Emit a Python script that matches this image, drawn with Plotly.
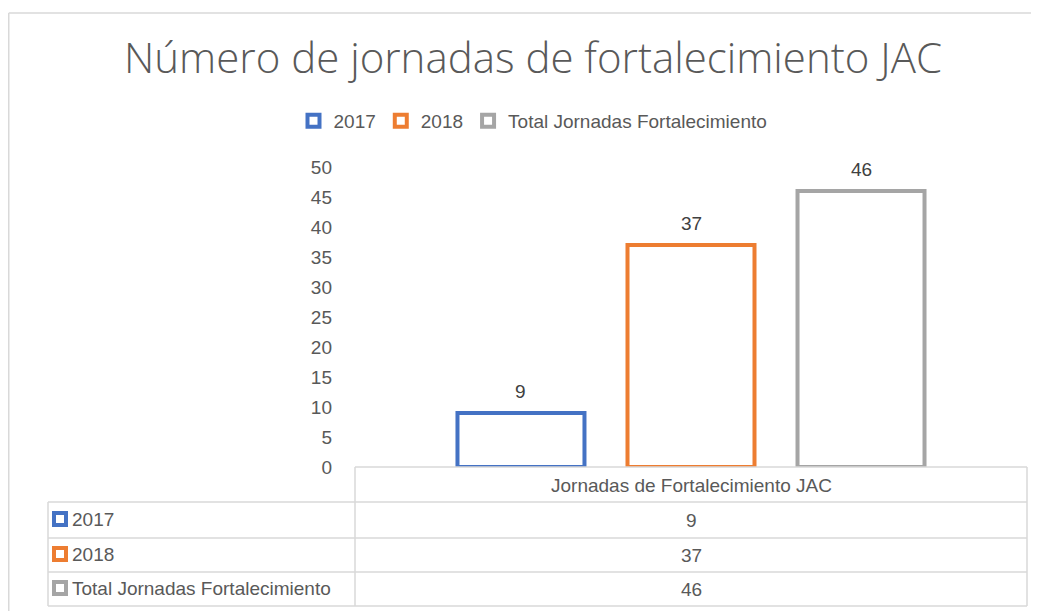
import plotly.graph_objects as go

title = "Número de jornadas de fortalecimiento JAC"
category = ["Jornadas de Fortalecimiento JAC"]
series_names = ["2017", "2018", "Total Jornadas Fortalecimiento"]
series_values = [9, 37, 46]
series_colors = ["#4472C4", "#ED7D31", "#A5A5A5"]
y_ticks = list(range(0, 51, 5))

OFF = 8  # default page body margin
W, H = 1039 - OFF, 611 - OFF
# target plot area in screen pixels
SL, SR, ST, SB = 355, 1027, 167, 467
PL, PR, PT, PB = SL - OFF, SR - OFF, ST - OFF, SB - OFF

def px_x(p):  # screen pixel -> paper x
    return (p - SL) / (SR - SL)

def px_y(p):  # screen pixel -> paper y
    return (SB - p) / (SB - ST)

FONT = "Liberation Sans"
TXT = "#595959"
FS = 19

fig = go.Figure()
for name, val, col in zip(series_names, series_values, series_colors):
    fig.add_trace(go.Bar(
        x=category, y=[val], name=name,
        marker=dict(color="white", line=dict(color=col, width=4)),
        cliponaxis=False,
    ))

bargap, bargroupgap = 0.241, 0.253
n = len(series_values)
slot = (1 - bargap) / n  # fraction of category width per bar slot
annotations = []
for i, val in enumerate(series_values):
    dx = (i - (n - 1) / 2) * slot * (SR - SL)
    annotations.append(dict(xref="x", yref="y", x=category[0], y=val, xshift=dx, yshift=22,
                            text=str(val), showarrow=False, yanchor="middle",
                            font=dict(family=FONT, size=FS, color="#404040")))

grid = "#D9D9D9"
shapes = []
# chart border (top and left visible)
shapes.append(dict(type="line", xref="paper", yref="paper",
                   x0=px_x(OFF + 0.75), x1=px_x(1060), y0=px_y(13), y1=px_y(13),
                   line=dict(color=grid, width=1.5)))
shapes.append(dict(type="line", xref="paper", yref="paper",
                   x0=px_x(OFF + 0.75), x1=px_x(OFF + 0.75), y0=px_y(13), y1=px_y(640),
                   line=dict(color=grid, width=1.5)))
# data table
row_edges = [467, 502, 538, 572, 606]
TL = 48
shapes.append(dict(type="line", xref="paper", yref="paper",
                   x0=0, x1=1, y0=px_y(467), y1=px_y(467), line=dict(color=grid, width=1.5)))
for ry in row_edges[1:]:
    shapes.append(dict(type="line", xref="paper", yref="paper",
                       x0=px_x(TL), x1=1, y0=px_y(ry), y1=px_y(ry), line=dict(color=grid, width=1.5)))
shapes.append(dict(type="line", xref="paper", yref="paper",
                   x0=0, x1=0, y0=px_y(467), y1=px_y(606), line=dict(color=grid, width=1.5)))
shapes.append(dict(type="line", xref="paper", yref="paper",
                   x0=1, x1=1, y0=px_y(467), y1=px_y(606), line=dict(color=grid, width=1.5)))
shapes.append(dict(type="line", xref="paper", yref="paper",
                   x0=px_x(TL), x1=px_x(TL), y0=px_y(502), y1=px_y(606), line=dict(color=grid, width=1.5)))

tfont = dict(family=FONT, size=FS, color=TXT)
annotations.append(dict(xref="paper", yref="paper", x=0.5, y=px_y(485), text=category[0],
                        showarrow=False, font=tfont, xanchor="center", yanchor="middle"))
for i, (name, val, col) in enumerate(zip(series_names, series_values, series_colors)):
    cy = (row_edges[i + 1] + row_edges[i + 2]) / 2
    shapes.append(dict(type="rect", xref="paper", yref="paper",
                       x0=px_x(54), x1=px_x(66), y0=px_y(cy + 5), y1=px_y(cy - 7),
                       fillcolor="white", line=dict(color=col, width=4)))
    annotations.append(dict(xref="paper", yref="paper", x=px_x(70), y=px_y(cy - 1), text=name,
                            showarrow=False, font=tfont, xanchor="left", yanchor="middle"))
    annotations.append(dict(xref="paper", yref="paper", x=0.5, y=px_y(cy), text=str(val),
                            showarrow=False, font=tfont, xanchor="center", yanchor="middle"))

fig.update_layout(
    width=W, height=H,
    margin=dict(l=PL, r=W - PR, t=PT, b=H - PB, autoexpand=False),
    paper_bgcolor="white", plot_bgcolor="white",
    barmode="group", bargap=bargap, bargroupgap=bargroupgap,
    title=dict(text=title, x=(533 - OFF) / W, xref="container", xanchor="center",
               y=1 - (58 - OFF) / H, yref="container", yanchor="middle",
               font=dict(family="Open Sans", size=42, color=TXT, weight=300)),
    legend=dict(orientation="h", xref="container", x=(533 - OFF) / W, xanchor="center",
                yref="container", y=1 - (121 - OFF) / H, yanchor="middle",
                font=dict(family=FONT, size=FS, color=TXT),
                itemwidth=30, tracegroupgap=0),
    xaxis=dict(showticklabels=False, showline=False, showgrid=False, zeroline=False),
    yaxis=dict(range=[0, 50], tickvals=y_ticks, showgrid=False, zeroline=False, showline=False,
               tickfont=dict(family=FONT, size=FS, color=TXT),
               ticklabelstandoff=22),
    shapes=shapes, annotations=annotations,
    showlegend=True,
)
fig.write_html("out.html")
